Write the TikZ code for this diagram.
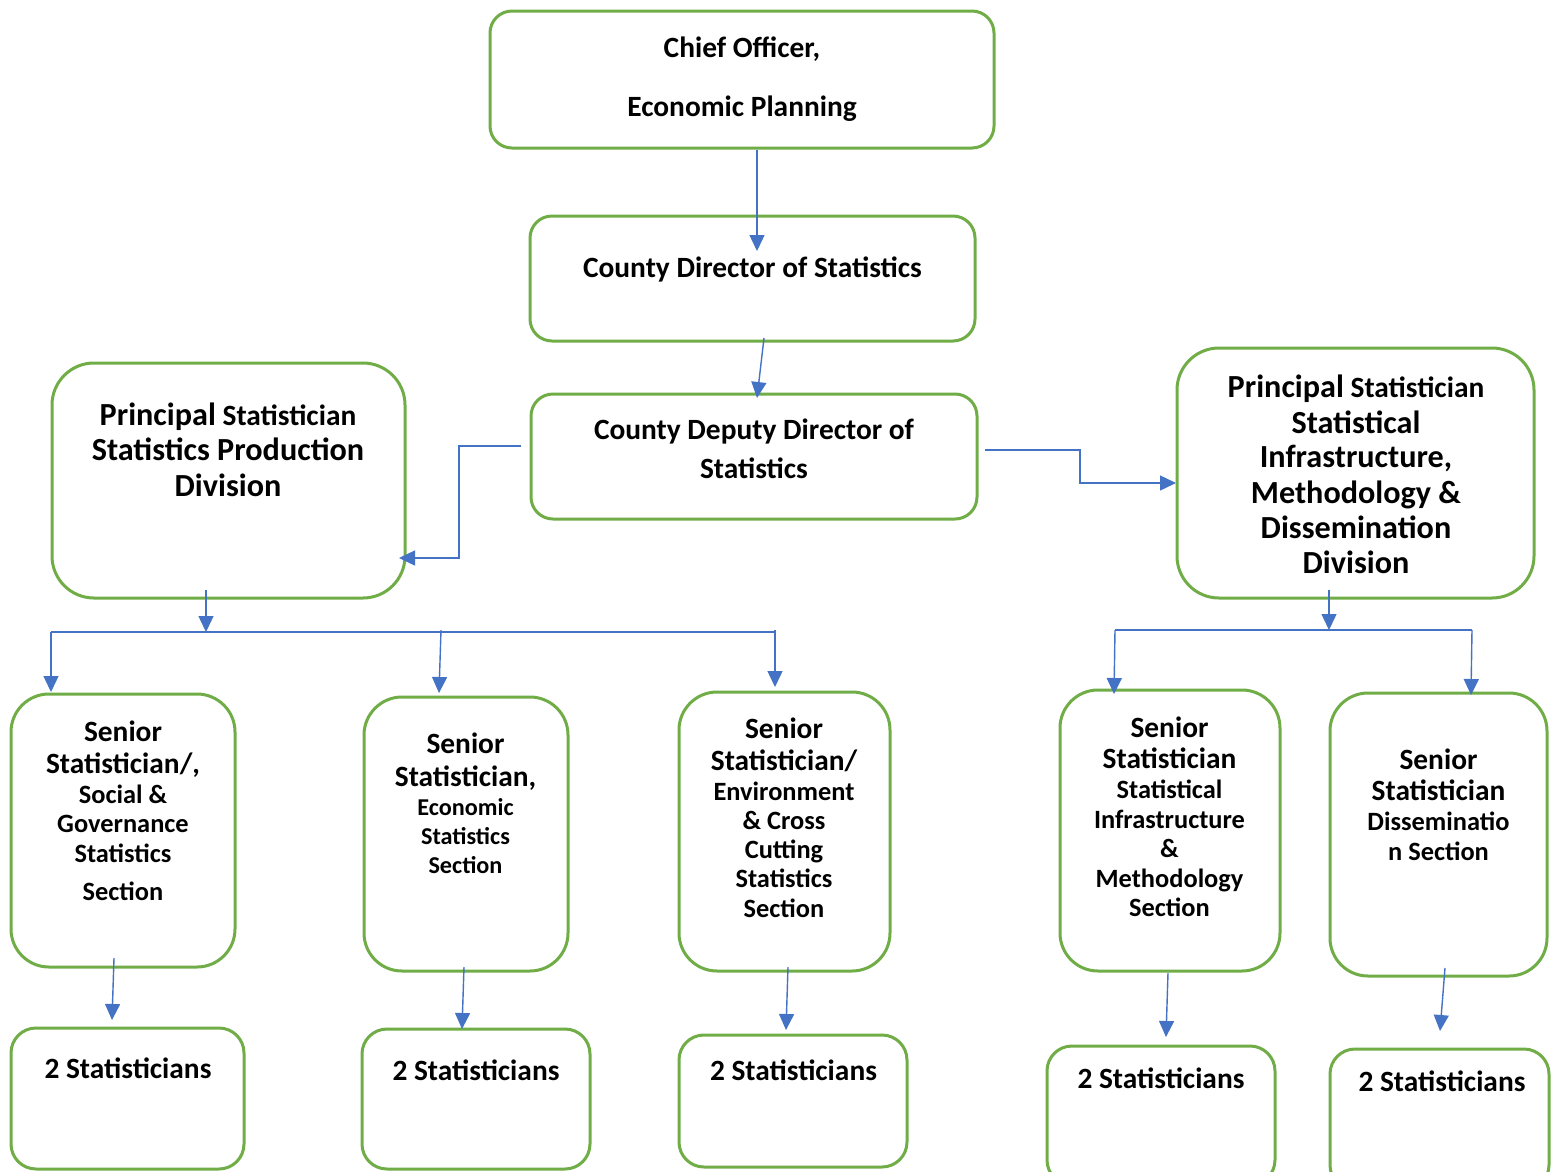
\documentclass[tikz,border=0pt]{standalone}
\usepackage{fontspec}
\setmainfont{Carlito}
\usetikzlibrary{arrows.meta,calc}
\definecolor{boxgreen}{HTML}{70AD47}
\definecolor{linkblue}{HTML}{4472C4}
\newcommand{\fsz}[1]{\fontsize{#1}{#1}\selectfont}
\begin{document}
\begin{tikzpicture}[x=1pt,y=-1pt,
  box/.style={draw=boxgreen, line width=3pt, inner sep=0pt, outer sep=0pt, rounded corners=#1},
  box/.default=22pt,
  lbl/.style={anchor=base, inner sep=0pt, outer sep=0pt, font=\bfseries\fsz{29.4}},
  sml/.style={lbl, font=\bfseries\fsz{26.4}},
  tiny/.style={lbl, font=\bfseries\fsz{24.2}},
  big/.style={lbl, font=\bfseries\fsz{32.2}},
  conn/.style={draw=linkblue, line width=1.4pt},
  arr/.style={conn, -{Triangle[width=15pt,length=16pt]}}]

\path[use as bounding box, clip] (0,0) rectangle (1551,1171);
\fill[white] (0,0) rectangle (1551,1171);

% boxes
\node[box, minimum width=504pt, minimum height=137pt] (chief) at (742,79.5) {};
\node[box, minimum width=445pt, minimum height=125pt] (dir) at (752.5,278.5) {};
\node[box, minimum width=446pt, minimum height=125pt] (dep) at (754,456.5) {};
\node[box=42pt, minimum width=353pt, minimum height=235pt] (pl) at (228.5,480.5) {};
\node[box=42pt, minimum width=357pt, minimum height=250pt] (pr) at (1355.5,473) {};
\node[box=38pt, minimum width=224pt, minimum height=273pt] (s1) at (123,830.5) {};
\node[box=38pt, minimum width=204pt, minimum height=274pt] (s2) at (466,834) {};
\node[box=38pt, minimum width=211pt, minimum height=279pt] (s3) at (784.5,831.5) {};
\node[box=38pt, minimum width=220pt, minimum height=281pt] (s4) at (1170,830.5) {};
\node[box=38pt, minimum width=217pt, minimum height=283pt] (s5) at (1438.5,834.5) {};
\node[box=25pt, minimum width=233pt, minimum height=141pt] (b1) at (127.5,1098.5) {};
\node[box=25pt, minimum width=228pt, minimum height=140pt] (b2) at (476,1099) {};
\node[box=25pt, minimum width=228pt, minimum height=132pt] (b3) at (793,1101) {};
\node[box=25pt, minimum width=228pt, minimum height=139pt] (b4) at (1161,1115.5) {};
\node[box=25pt, minimum width=219pt, minimum height=141pt] (b5) at (1439.5,1119.5) {};

% texts
\node[lbl] (chief1) at (742,57) {Chief Officer,};
\node[lbl] (chief2) at (742,116) {Economic Planning};
\node[lbl] (dir1) at (752.5,277) {County Director of Statistics};
\node[lbl] (dep1) at (754,439) {County Deputy Director of};
\node[lbl] (dep2) at (754,478) {Statistics};

\node[lbl] (pl1) at (228,425) {{\fsz{32.2}Principal} Statistician};
\node[big] (pl2) at (228,460) {Statistics Production};
\node[big] (pl3) at (228,496) {Division};

\node[lbl] (pr1) at (1356,397) {{\fsz{32.2}Principal} Statistician};
\node[big] (pr2) at (1356,433) {Statistical};
\node[big] (pr3) at (1356,467) {Infrastructure,};
\node[big] (pr4) at (1356,503) {Methodology \&};
\node[big] (pr5) at (1356,538) {Dissemination};
\node[big] (pr6) at (1356,573) {Division};

\node[lbl] (s1a) at (123,741) {Senior};
\node[lbl] (s1b) at (123,773) {Statistician/,};
\node[sml] (s1c) at (123,803) {Social \&};
\node[sml] (s1d) at (123,832) {Governance};
\node[sml] (s1e) at (123,862) {Statistics};
\node[sml] (s1f) at (123,900) {Section};

\node[lbl] (s2a) at (465.5,753) {Senior};
\node[lbl] (s2b) at (465.5,786) {Statistician,};
\node[tiny] (s2c) at (465.5,815) {Economic};
\node[tiny] (s2d) at (465.5,844) {Statistics};
\node[tiny] (s2e) at (465.5,873) {Section};

\node[lbl] (s3a) at (784,738) {Senior};
\node[lbl] (s3b) at (784,770) {Statistician/};
\node[sml] (s3c) at (784,800) {Environment};
\node[sml] (s3d) at (784,829) {\& Cross};
\node[sml] (s3e) at (784,858) {Cutting};
\node[sml] (s3f) at (784,887) {Statistics};
\node[sml] (s3g) at (784,917) {Section};

\node[lbl] (s4a) at (1169.5,737) {Senior};
\node[lbl] (s4b) at (1169.5,768) {Statistician};
\node[sml] (s4c) at (1169.5,798) {Statistical};
\node[sml] (s4d) at (1169.5,828) {Infrastructure};
\node[sml] (s4e) at (1169.5,857) {\&};
\node[sml] (s4f) at (1169.5,887) {Methodology};
\node[sml] (s4g) at (1169.5,916) {Section};

\node[lbl] (s5a) at (1438.5,769) {Senior};
\node[lbl] (s5b) at (1438.5,800) {Statistician};
\node[sml] (s5c) at (1438.5,830) {Disseminatio};
\node[sml] (s5d) at (1438.5,860) {n Section};

\node[lbl] (b1t) at (128,1078) {2 Statisticians};
\node[lbl] (b2t) at (476,1080) {2 Statisticians};
\node[lbl] (b3t) at (793.5,1080) {2 Statisticians};
\node[lbl] (b4t) at (1161,1088) {2 Statisticians};
\node[lbl] (b5t) at (1442,1091) {2 Statisticians};

% bus coordinates
\coordinate (lbusW) at (51,632);
\coordinate (lbusE) at (775,632);
\coordinate (lbusT) at (206,632);
\coordinate (lbusM) at (441,630);
\coordinate (rbusW) at (1115,630);
\coordinate (rbusE) at (1472,630);
\coordinate (rbusT) at (1329,630);

% connectors
\draw[arr] ($(chief.south)+(15,2)$) -- ($(dir.north)+(4.5,35)$);
\draw[arr] ($(dir.south)+(11.5,-3)$) -- ($(dep.north)+(3,4)$);
\draw[arr] ($(dep.west)+(-10,-10.5)$) -- ++(-62,0) |- ($(pl.east)+(-6,77.5)$);
\draw[arr] ($(dep.east)+(8,-6.5)$) -- ++(95,0) |- ($(pr.west)+(-1,10)$);

\draw[arr] ($(pl.south)+(-22.5,-8)$) -- (lbusT);
\draw[conn] (lbusW) -- (lbusE);
\draw[arr] (lbusW) -- ($(s1.north)+(-72,-2)$);
\draw[arr] (lbusM) -- ($(s2.north)+(-27,-4)$);
\draw[arr] ($(lbusE)+(0,-2)$) -- ($(s3.north)+(-9.5,-5)$);

\draw[arr] ($(pr.south)+(-26.5,-8)$) -- (rbusT);
\draw[conn] (rbusW) -- (rbusE);
\draw[arr] (rbusW) -- ($(s4.north)+(-56,4)$);
\draw[arr] (rbusE) -- ($(s5.north)+(32.5,2)$);

\draw[arr] ($(s1.south)+(-9,-9)$) -- ($(b1.north)+(-15.5,-8)$);
\draw[arr] ($(s2.south)+(-2,-4)$) -- ($(b2.north)+(-14,0)$);
\draw[arr] ($(s3.south)+(3.5,-4)$) -- ($(b3.north)+(-7,-5)$);
\draw[arr] ($(s4.south)+(-2,2)$) -- ($(b4.north)+(5,-9)$);
\draw[arr] ($(s5.south)+(6.5,-8)$) -- ($(b5.north)+(0.5,-18)$);
\end{tikzpicture}
\end{document}
